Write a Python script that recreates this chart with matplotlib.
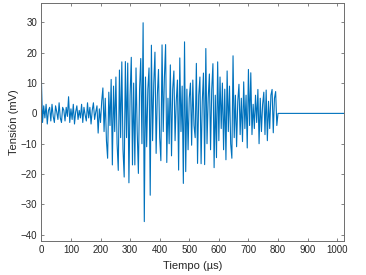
import numpy as np
import matplotlib
matplotlib.use("Agg")
import matplotlib.pyplot as plt

plt.rcParams['font.family'] = ['Liberation Sans', 'DejaVu Sans']

# sampling step (µs) of the active part of the signal
dt = 4
tension = [
    11.5, -3.0, 2.5, -1.5, 3.0, -3.5, 1.0, 2.0, -2.5, 3.0,
    -1.0, -3.0, 2.5, 0.5, -2.0, 3.5, -1.5, -3.0, 2.0, 1.0,
    -2.5, 2.0, -1.0, 5.5, -3.0, 1.5, -2.0, 3.0, -3.5, 0.5,
    2.5, -2.0, 1.0, -1.5, 3.0, -3.0, 2.0, -0.5, -2.5, 3.5,
    -1.5, 2.0, -3.5, 1.0, 3.5, -2.0, 0.5, 2.5, -6.5, 1.5,
    -3.0, 4.0, 8.4, -6.0, 5.0, -9.0, -14.8, 7.0, -4.0, 11.2,
    -17.0, 9.0, -6.0, 12.0, -10.0, -18.8, 14.3, -8.0, 17.0, -12.0,
    -21.0, 17.1, -8.0, 16.6, -22.9, 6.0, 18.5, -17.0, 10.0, -17.0,
    15.0, -6.0, -19.8, 8.0, 18.1, -10.0, 29.9, -35.7, 12.0, -11.0,
    8.0, 15.0, -27.0, 22.5, -9.0, 10.0, 20.2, -13.2, 6.0, 14.5,
    -8.0, -15.6, 22.6, -6.0, 12.0, 22.7, -16.2, 5.0, -10.0, 16.0,
    -14.0, 8.0, 14.0, -9.0, 4.0, 11.0, -18.7, 18.3, -6.0, 9.0,
    -23.1, 23.6, -19.2, 8.0, -12.0, 5.0, 10.0, -10.5, 11.0, -4.0,
    -8.0, 16.5, -16.5, 6.0, 12.0, -16.6, 4.0, 13.3, -16.9, 21.4,
    -10.0, 5.0, 13.0, -12.0, 8.0, 16.4, -17.9, 6.0, -14.6, 17.0,
    -9.0, 12.0, -5.0, 10.0, -12.0, 8.0, -15.3, 14.0, -6.0, 9.0,
    -10.0, -14.8, 19.0, -8.0, 6.0, -11.0, 4.0, 9.6, -7.0, 5.0,
    -9.3, 10.4, -5.0, 6.0, -11.4, 14.5, -4.0, 13.4, -7.0, 3.0,
    -5.0, 6.0, -3.0, 7.9, -10.0, 5.0, -6.0, 3.0, 7.0, -7.0,
    7.7, -9.0, 4.0, -5.0, 6.0, 7.9, -6.4, 5.0, 7.2, -4.0,
]
# flat tail after the burst
tail_t = [800, 1022]
tail_v = [0.0, 0.0]

xticks = [0, 100, 200, 300, 400, 500, 600, 700, 800, 900, 1000]
yticks = [-40, -30, -20, -10, 0, 10, 20, 30]

t = np.concatenate([np.arange(len(tension)) * dt, tail_t])
v = np.concatenate([tension, tail_v])

fig = plt.figure(figsize=(3.66, 2.75), dpi=100)
ax = fig.add_axes([0.113, 0.1225, 0.826, 0.8675])
ax.plot(t, v, color='#0072BD', lw=0.8)

ax.set_xlim(0, 1022)
ax.set_ylim(-42.2, 36.5)
ax.set_xticks(xticks)
ax.set_yticks(yticks)

axcol = '#6e6e6e'
for s in ax.spines.values():
    s.set_color(axcol)
    s.set_linewidth(0.7)
ax.tick_params(direction='in', length=2.5, width=0.6, color=axcol,
               top=True, right=True, labelsize=7, labelcolor='#262626', pad=3)
ax.set_xlabel('Tiempo (µs)', fontsize=8, color='#262626', labelpad=4)
ax.set_ylabel('Tensión (mV)', fontsize=8, color='#262626', labelpad=1)

fig.savefig('out.png', dpi=100)
